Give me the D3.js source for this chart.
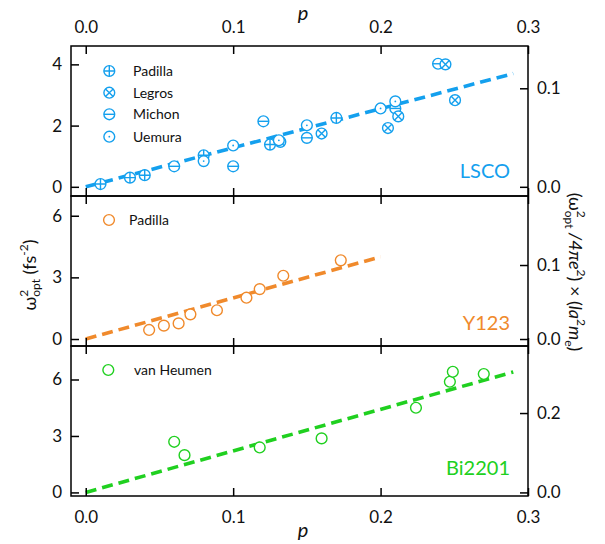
<!DOCTYPE html>
<html><head><meta charset="utf-8">
<script src="https://cdn.jsdelivr.net/npm/d3@7"></script>
<style>
body{margin:0;background:#fff;}
svg text{font-family:Lato,"Noto Sans",sans-serif;}
</style></head>
<body>
<svg id="c" width="605" height="544"></svg>
<script>
// ---------- data ----------
const xTicks = [0, 0.1, 0.2, 0.3];
const leftTicksLSCO = [0, 2, 4];
const leftTicksY123 = [0, 3, 6];
const leftTicksBi = [0, 3, 6];
const rightTicksLSCO = [0, 0.1];
const rightTicksY123 = [0, 0.1];
const rightTicksBi = [0, 0.2];

const lscoPadillaP = [0.010, 0.030, 0.040, 0.080, 0.125, 0.170];
const lscoPadillaW = [0.09, 0.30, 0.38, 1.03, 1.38, 2.25];
const lscoMichonP = [0.060, 0.100, 0.1205, 0.150, 0.210, 0.239];
const lscoMichonW = [0.67, 0.67, 2.14, 1.60, 2.56, 4.02];
const lscoLegrosP = [0.132, 0.160, 0.205, 0.212, 0.244, 0.2505];
const lscoLegrosW = [1.47, 1.74, 1.92, 2.30, 4.00, 2.83];
const lscoUemuraP = [0.080, 0.100, 0.131, 0.150, 0.200, 0.210];
const lscoUemuraW = [0.84, 1.35, 1.52, 2.01, 2.56, 2.79];

const y123P = [0.043, 0.053, 0.063, 0.071, 0.089, 0.109, 0.118, 0.134, 0.173];
const y123W = [0.44, 0.65, 0.76, 1.20, 1.40, 2.01, 2.43, 3.08, 3.83];

const biP = [0.060, 0.067, 0.118, 0.160, 0.224, 0.247, 0.249, 0.270];
const biW = [2.69, 1.98, 2.39, 2.87, 4.50, 5.88, 6.41, 6.29];

const lscoFitP = [0, 0.29], lscoFitW = [0, 3.70];
const y123FitP = [0, 0.20], y123FitW = [0, 4.00];
const biFitP = [0, 0.29], biFitW = [0, 6.40];

// ---------- layout ----------
const BLUE = "#14a0ee", ORANGE = "#f08a2c", GREEN = "#20d020";
const L = 71, R = 528;
const svg = d3.select("#c");
const x = d3.scaleLinear().domain([-0.01, 0.3]).range([L, R]);

const panels = [
  {top:46, bot:196, dom:[-0.30, 4.60], factor:0.03107, lt:leftTicksLSCO, rt:rightTicksLSCO, color:BLUE, label:"LSCO", labelY:178,
   fitP:lscoFitP, fitW:lscoFitW,
   series:[
     {p:lscoPadillaP, w:lscoPadillaW, sym:"plus", name:"Padilla"},
     {p:lscoMichonP, w:lscoMichonW, sym:"minus", name:"Michon"},
     {p:lscoLegrosP, w:lscoLegrosW, sym:"cross", name:"Legros"},
     {p:lscoUemuraP, w:lscoUemuraW, sym:"dot", name:"Uemura"}],
   legend:[{sym:"plus",name:"Padilla",y:71},{sym:"cross",name:"Legros",y:92.7},{sym:"minus",name:"Michon",y:114.3},{sym:"dot",name:"Uemura",y:136.7}],
   legX:109.3, legTX:133},
  {top:196, bot:346, dom:[-0.34, 6.96], factor:0.02777, lt:leftTicksY123, rt:rightTicksY123, color:ORANGE, label:"Y123", labelY:329.5,
   fitP:y123FitP, fitW:y123FitW,
   series:[{p:y123P, w:y123W, sym:"open", name:"Padilla"}],
   legend:[{sym:"open",name:"Padilla",y:220}], legX:109, legTX:129},
  {top:346, bot:496, dom:[-0.19, 7.78], factor:0.04742, lt:leftTicksBi, rt:rightTicksBi, color:GREEN, label:"Bi2201", labelY:475,
   fitP:biFitP, fitW:biFitW,
   series:[{p:biP, w:biW, sym:"open", name:"van Heumen"}],
   legend:[{sym:"open",name:"van Heumen",y:370}], legX:108.3, legTX:134}
];

const MR = 5.4;
function marker(g, cx, cy, sym, color){
  const m = g.append("g").attr("transform", `translate(${cx},${cy})`)
    .attr("stroke", color).attr("stroke-width", 1.4).attr("fill", "none");
  m.append("circle").attr("r", MR).attr("fill", "#fff");
  const a = MR*0.707;
  if(sym==="plus") m.append("path").attr("d", `M${-MR},0H${MR}M0,${-MR}V${MR}`);
  if(sym==="minus") m.append("path").attr("d", `M${-MR},0H${MR}`);
  if(sym==="cross") m.append("path").attr("d", `M${-a},${-a}L${a},${a}M${-a},${a}L${a},${-a}`);
  if(sym==="dot") m.append("circle").attr("r", 0.9).attr("fill", color).attr("stroke", "none");
}

panels.forEach((P, i) => {
  const y = d3.scaleLinear().domain(P.dom).range([P.bot, P.top]);
  const yr = d3.scaleLinear().domain(P.dom.map(v => v*P.factor)).range([P.bot, P.top]);
  const g = svg.append("g");

  // fit line
  const line = d3.line().x((d,k) => x(P.fitP[k])).y((d,k) => y(P.fitW[k]));
  g.append("path").attr("d", line(P.fitP)).attr("fill","none").attr("stroke", P.color)
    .attr("stroke-width", 3.6).attr("stroke-dasharray", "11,6");

  // points
  P.series.forEach(s => {
    s.p.forEach((pv, k) => marker(g, x(pv), y(s.w[k]), s.sym, P.color));
  });

  // legend
  P.legend.forEach(it => {
    marker(g, P.legX, it.y, it.sym, P.color);
    g.append("text").attr("x", P.legTX).attr("y", it.y + 5).attr("font-size", 14).attr("fill", "#111").text(it.name);
  });

  // panel label
  g.append("text").attr("x", 510).attr("y", P.labelY).attr("text-anchor","end")
    .attr("font-size", 20).attr("fill", P.color).text(P.label);

  // axes
  const fmtI = d3.format("d"), fmt1 = d3.format(".1f");
  const aL = g.append("g").attr("transform", `translate(${L},0)`)
    .call(d3.axisLeft(y).tickValues(P.lt).tickSize(-8).tickPadding(9).tickFormat(fmtI));
  const aR = g.append("g").attr("transform", `translate(${R},0)`)
    .call(d3.axisRight(yr).tickValues(P.rt).tickSize(-8).tickPadding(9).tickFormat(fmt1));
  const aT = g.append("g").attr("transform", `translate(0,${P.top})`)
    .call(d3.axisTop(x).tickValues(xTicks).tickSize(-8).tickPadding(13).tickFormat(i===0 ? fmt1 : () => ""));
  const aB = g.append("g").attr("transform", `translate(0,${P.bot})`)
    .call(d3.axisBottom(x).tickValues(xTicks).tickSize(-8).tickPadding(15).tickFormat(i===2 ? fmt1 : () => ""));
  [aL, aR, aT, aB].forEach(a => {
    a.select(".domain").remove();
    a.selectAll("line").attr("stroke", "#000").attr("stroke-width", 1.5);
    a.selectAll("text").attr("font-size", 17).attr("fill", "#111").style("font-family", "Lato, sans-serif");
  });
  g.append("rect").attr("x", L).attr("y", P.top).attr("width", R-L).attr("height", P.bot-P.top)
    .attr("fill","none").attr("stroke","#000").attr("stroke-width", 1.5);
});

// axis titles
svg.append("text").attr("x", 303).attr("y", 20).attr("text-anchor","middle").attr("font-size", 20)
  .attr("font-style","italic").attr("fill","#111").text("p");
svg.append("text").attr("x", 303).attr("y", 537).attr("text-anchor","middle").attr("font-size", 20)
  .attr("font-style","italic").attr("fill","#111").text("p");

// left label
const ll = svg.append("text").attr("transform","translate(36,275) rotate(-90)").attr("text-anchor","middle")
  .attr("font-size", 18).attr("fill","#111");
ll.append("tspan").text("ω");
ll.append("tspan").attr("font-size", 12).attr("dy", -8).text("2");
ll.append("tspan").attr("font-size", 12).attr("dx", -7).attr("dy", 12).text("opt");
ll.append("tspan").attr("dy", -4).text(" (fs");
ll.append("tspan").attr("font-size", 12).attr("dy", -8).text("-2");
ll.append("tspan").attr("dy", 8).text(")");

// right label
const rl = svg.append("text").attr("transform","translate(569,272) rotate(90)").attr("text-anchor","middle")
  .attr("font-size", 18).attr("fill","#111");
rl.append("tspan").text("(ω");
rl.append("tspan").attr("font-size", 12).attr("dy", -8).text("2");
rl.append("tspan").attr("font-size", 12).attr("dx", -7).attr("dy", 12).text("opt");
rl.append("tspan").attr("dy", -4).attr("font-style","italic").text(" /4πe");
rl.append("tspan").attr("font-size", 12).attr("dy", -8).text("2");
rl.append("tspan").attr("dy", 8).text(") × (");
rl.append("tspan").attr("font-style","italic").text("la");
rl.append("tspan").attr("font-size", 12).attr("dy", -8).text("2");
rl.append("tspan").attr("font-style","italic").attr("dy", 8).text("m");
rl.append("tspan").attr("font-size", 12).attr("dy", 4).text("e");
rl.append("tspan").attr("dy", -4).text(")");
</script>
</body></html>
